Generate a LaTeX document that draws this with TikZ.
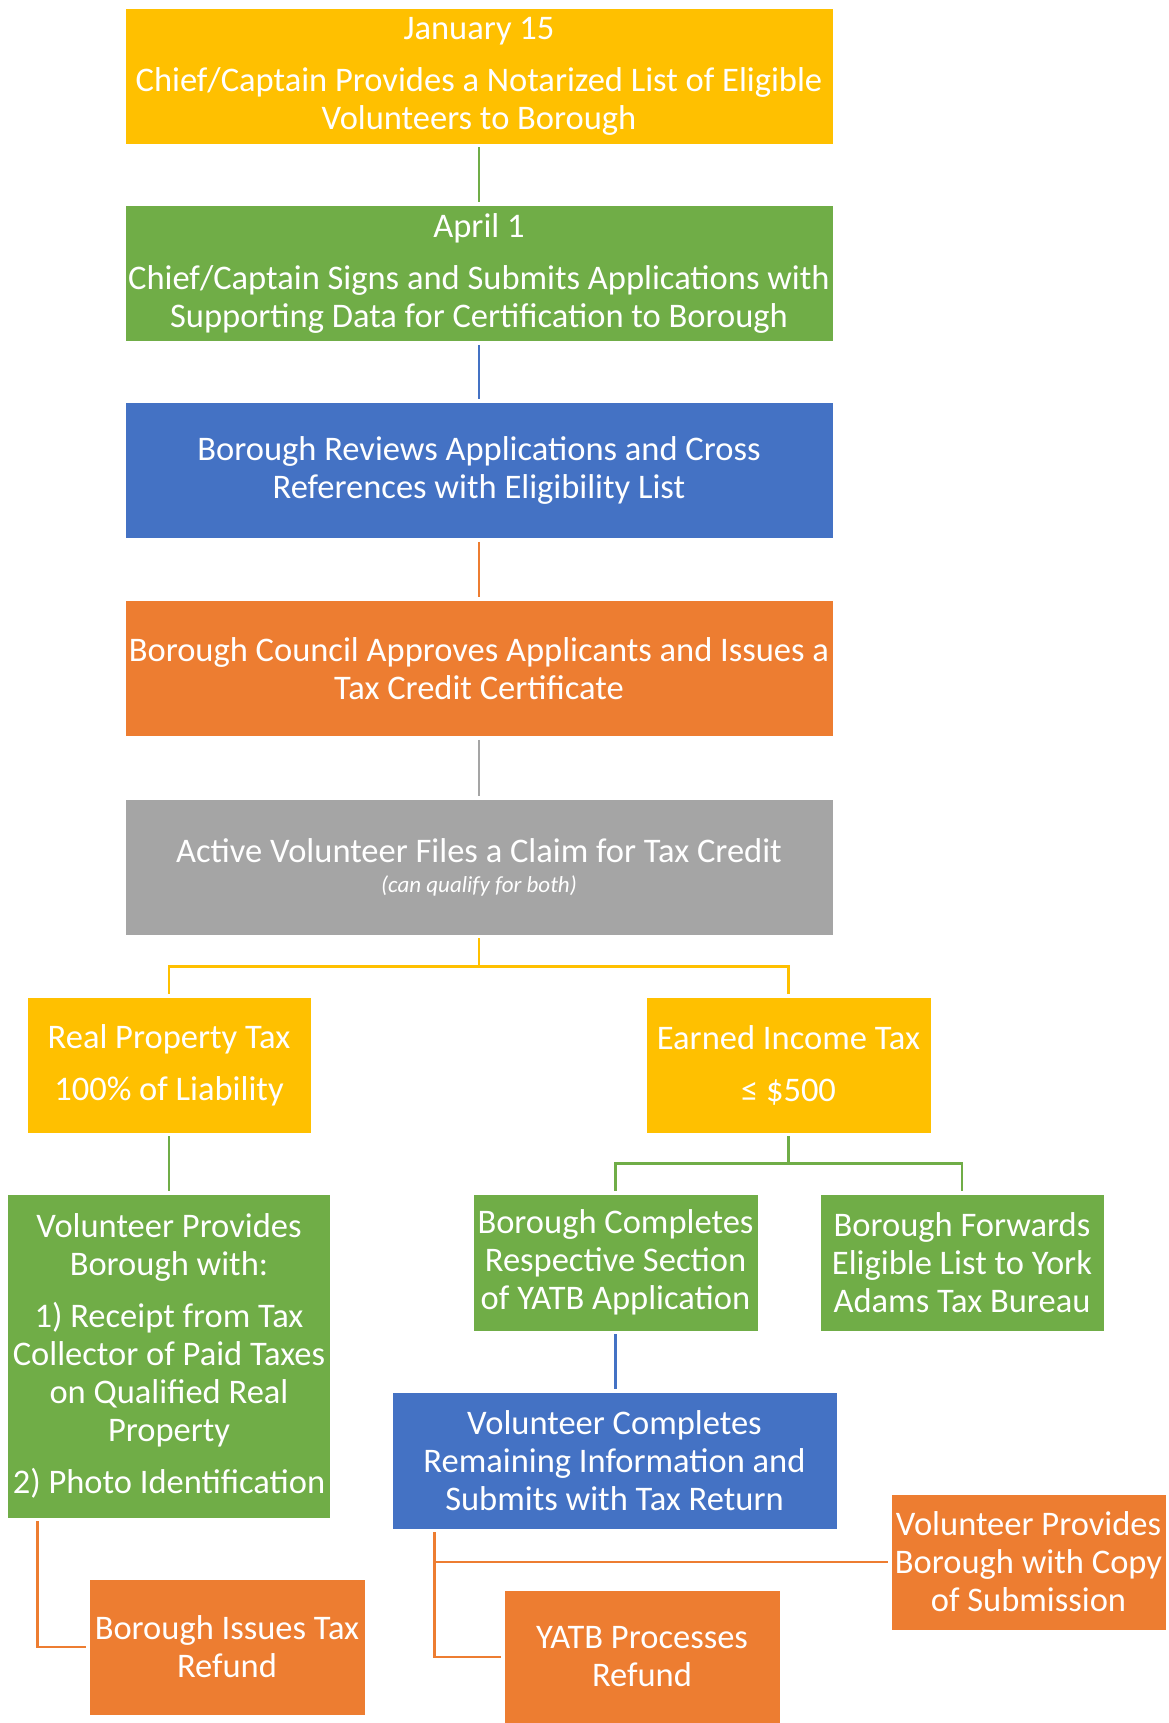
\documentclass[tikz,border=0pt]{standalone}
\usepackage{fontspec}
\setmainfont{Carlito}
\definecolor{cyel}{HTML}{FFC000}
\definecolor{cgrn}{HTML}{70AD47}
\definecolor{cblu}{HTML}{4472C4}
\definecolor{corg}{HTML}{ED7D31}
\definecolor{cgry}{HTML}{A5A5A5}
\begin{document}
\begin{tikzpicture}[x=1pt,y=-1pt,
  box/.style={rectangle, draw=white, line width=0.8pt, text=white, align=center,
    inner sep=0pt, font=\fontsize{34.5}{38}\selectfont,
    execute at begin node={\rule{0pt}{32pt}}},
  wide/.style={minimum width=708pt, minimum height=136pt},
  small/.style={minimum width=284pt, minimum height=136pt},
  conn/.style={line width=2.5pt, shorten <=3pt, shorten >=3pt}]
\fill[white] (0,0) rectangle (1169,1723);
\useasboundingbox (0,0) rectangle (1169,1723);

\node[box, wide, fill=cyel] (jan) at (479,76) {January 15\\[14pt]Chief/Captain Provides a Notarized List of Eligible\\Volunteers to Borough};
\node[box, wide, fill=cgrn] (apr) at (479,273.5) {April 1\\[14pt]Chief/Captain Signs and Submits Applications with\\Supporting Data for Certification to Borough};
\node[box, wide, fill=cblu] (rev) at (479,470.5) {Borough Reviews Applications and Cross\\References with Eligibility List};
\node[box, wide, fill=corg] (cou) at (479,668.5) {Borough Council Approves Applicants and Issues a\\Tax Credit Certificate};
\node[box, wide, fill=cgry] (act) at (479,867) {Active Volunteer Files a Claim for Tax Credit\\[-8pt]{\fontsize{23}{27}\selectfont\itshape (can qualify for both)}};

\node[box, small, fill=cyel] (rpt) at (169,1065) {Real Property Tax\\[14pt]100\% of Liability};
\node[box, small, minimum width=285pt, fill=cyel] (eit) at (788.5,1065) {Earned Income Tax\\[14pt]≤ \$500};

\node[box, minimum width=323pt, minimum height=324pt, fill=cgrn] (vpb) at (169,1356) {Volunteer Provides\\Borough with:\\[14pt]1) Receipt from Tax\\Collector of Paid Taxes\\on Qualified Real\\Property\\[14pt]2) Photo Identification};
\node[box, minimum width=285pt, minimum height=137pt, fill=cgrn] (bco) at (615.5,1262.5) {Borough Completes\\Respective Section\\of YATB Application};
\node[box, minimum width=284pt, minimum height=137pt, fill=cgrn] (bfw) at (962,1262.5) {Borough Forwards\\Eligible List to York\\Adams Tax Bureau};

\node[box, minimum width=445pt, minimum height=137pt, fill=cblu] (vco) at (614.5,1460.5) {Volunteer Completes\\Remaining Information and\\Submits with Tax Return};
\node[box, minimum width=275pt, minimum height=136pt, fill=corg] (vcp) at (1028.5,1562) {Volunteer Provides\\Borough with Copy\\of Submission};
\node[box, minimum width=276pt, minimum height=136pt, fill=corg] (bit) at (227,1647) {Borough Issues Tax\\Refund};
\node[box, minimum width=276pt, minimum height=134pt, fill=corg] (ypr) at (642,1657) {YATB Processes\\Refund};

\draw[conn, cgrn] (jan.south) -- (apr.north);
\draw[conn, cblu] (apr.south) -- (rev.north);
\draw[conn, corg] (rev.south) -- (cou.north);
\draw[conn, cgry] (cou.south) -- (act.north);
\draw[conn, cyel] (act.south) -- ++(0,31) -| (rpt.north);
\draw[conn, cyel] (act.south) -- ++(0,31) -| (eit.north);
\draw[conn, cgrn] (rpt.south) -- (vpb.north);
\draw[conn, cgrn] (eit.south) -- ++(0,30) -| (bco.north);
\draw[conn, cgrn] (eit.south) -- ++(0,30) -| (bfw.north);
\draw[conn, cblu] (bco.south) -- (bco.south |- vco.north);
\draw[conn, corg] (vpb.south west) ++(30.5,0) |- (bit.west);
\draw[conn, corg] (vco.south west) ++(43,0) |- (vcp.west);
\draw[conn, corg] (vco.south west) ++(43,0) |- (ypr.west);
\end{tikzpicture}
\end{document}
